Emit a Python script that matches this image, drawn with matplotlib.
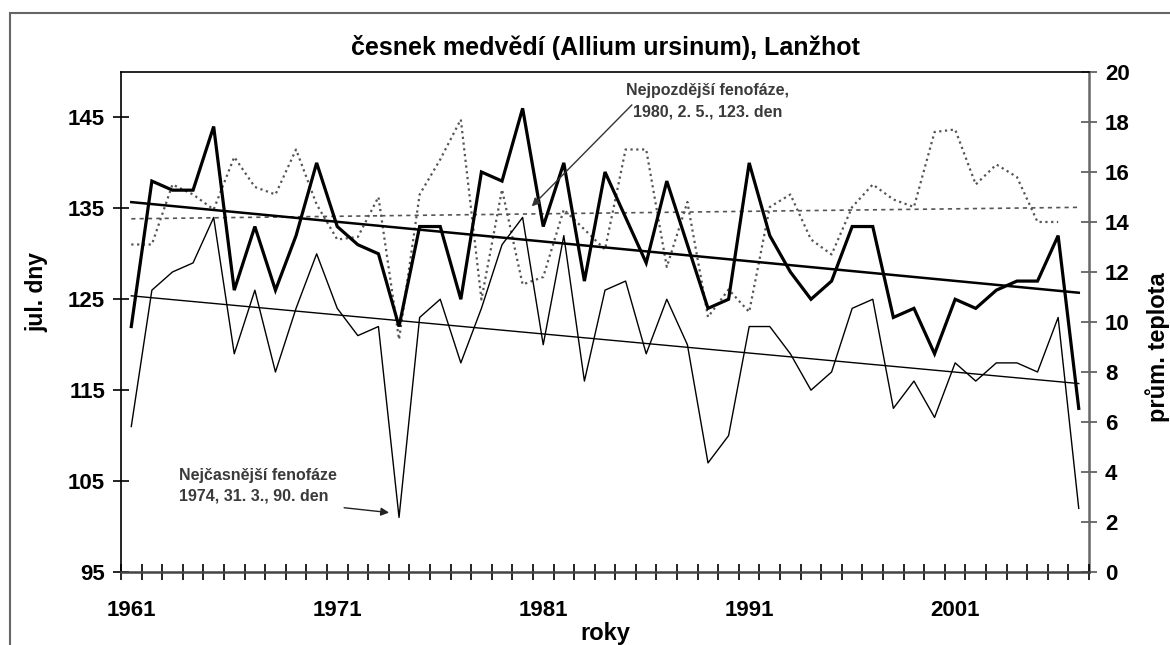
import numpy as np
import matplotlib
matplotlib.use('Agg')
import matplotlib.pyplot as plt
from matplotlib.patches import Rectangle

plt.rcParams['font.family'] = ['Liberation Sans', 'DejaVu Sans']

# roky 1961-2007
roky = list(range(1961, 2008))

# tlusta cara - jul. dny (leva osa)
faze_a = [122, 138, 137, 137, 144, 126, 133, 126, 132, 140,
          133, 131, 130, 122, 133, 133, 125, 139, 138, 146,
          133, 140, 127, 139, 134, 129, 138, 131, 124, 125,
          140, 132, 128, 125, 127, 133, 133, 123, 124, 119,
          125, 124, 126, 127, 127, 132, 113]

# tenka cara - jul. dny (leva osa)
faze_b = [111, 126, 128, 129, 134, 119, 126, 117, 124, 130,
          124, 121, 122, 101, 123, 125, 118, 124, 131, 134,
          120, 132, 116, 126, 127, 119, 125, 120, 107, 110,
          122, 122, 119, 115, 117, 124, 125, 113, 116, 112,
          118, 116, 118, 118, 117, 123, 102]

# tečkovaná - prům. teplota (prava osa), 2007 chybi
teplota = [13.1, 13.1, 15.5, 15.1, 14.5, 16.6, 15.4, 15.1, 16.9, 14.7,
           13.3, 13.4, 15.0, 9.3, 15.1, 16.5, 18.1, 10.9, 15.3, 11.5,
           11.8, 14.5, 13.7, 12.9, 16.9, 16.9, 12.2, 14.8, 10.2, 11.3,
           10.4, 14.6, 15.1, 13.3, 12.7, 14.6, 15.5, 14.9, 14.6, 17.6,
           17.7, 15.5, 16.3, 15.8, 14.0, 14.0, np.nan]

popisky_x = [1961, 1971, 1981, 1991, 2001]

x = np.array(roky, dtype=float)
a = np.array(faze_a, dtype=float)
b = np.array(faze_b, dtype=float)
t = np.array(teplota, dtype=float)

def trend(x, y):
    ok = ~np.isnan(y)
    k, q = np.polyfit(x[ok], y[ok], 1)
    return k * x + q

fig = plt.figure(figsize=(11.7, 6.45), dpi=100)
ax = fig.add_axes([0.1034, 0.1132, 0.8274, 0.7752])
ax2 = ax.twinx()

# teplota na prave ose
ax2.plot(x[~np.isnan(t)], t[~np.isnan(t)], color='#555555', lw=1.6, linestyle=(0, (1, 1.6)))
ax2.plot(x, trend(x, t), color='#555555', lw=1.2, linestyle=(0, (2.5, 2.5)))

ax.plot(x, a, color='black', lw=2.3, solid_joinstyle='miter', zorder=3)
ax.plot(x, b, color='black', lw=1.0, zorder=3)
ax.plot(x, trend(x, a), color='black', lw=1.8, zorder=3)
ax.plot(x, trend(x, b), color='black', lw=1.0, zorder=3)

ax.set_zorder(ax2.get_zorder() + 1)
ax.patch.set_visible(False)

ax.set_xlim(1960.5, 2007.5)
ax.set_ylim(95, 150)
ax2.set_ylim(0, 20)

ax.set_xticks(popisky_x)
ax.set_xticklabels([str(r) for r in popisky_x], fontsize=16, fontweight='bold')
ax.set_xticks(np.arange(1960.5, 2008, 1), minor=True)
ax.tick_params(axis='x', which='major', length=0, pad=20)
ax.tick_params(axis='x', which='minor', direction='inout', length=11, width=1.2)

ax.set_yticks(np.arange(95, 146, 10))
ax.set_yticklabels([str(v) for v in range(95, 146, 10)], fontsize=16, fontweight='bold')
ax.tick_params(axis='y', direction='inout', length=11, width=1.2, pad=6)

ax2.set_yticks(np.arange(0, 21, 2))
ax2.set_yticklabels([str(v) for v in range(0, 21, 2)], fontsize=16, fontweight='bold')
ax2.tick_params(axis='y', direction='inout', length=11, width=1.2, pad=6, color='#555555')

for s in ['left', 'top']:
    ax.spines[s].set_linewidth(1.2)
ax.spines['bottom'].set_color('#444444')
ax.spines['bottom'].set_linewidth(1.8)
ax.spines['right'].set_visible(False)
ax2.spines['right'].set_color('#666666')
ax2.spines['right'].set_linewidth(1.8)
for s in ['left', 'top', 'bottom']:
    ax2.spines[s].set_visible(False)

ax.set_title('česnek medvědí (Allium ursinum), Lanžhot', fontsize=18, fontweight='bold', pad=12)
ax.set_ylabel('jul. dny', fontsize=16.5, fontweight='bold')
ax.yaxis.set_label_coords(-0.0754, 0.56)
ax.set_xlabel('roky', fontsize=17, fontweight='bold', labelpad=1)
ax2.set_ylabel('prům. teplota', fontsize=17, fontweight='bold')
ax2.yaxis.set_label_coords(1.058, 0.45)

# popisky extremu
uzky = ['Liberation Sans Narrow', 'Liberation Sans', 'DejaVu Sans']
ax.annotate('', xy=(1980.35, 135), xytext=(1985.4, 146.6),
            arrowprops=dict(arrowstyle='-|>', color='#333333', lw=1.0, mutation_scale=12))
ax.text(1989.0, 146.8, 'Nejpozdější fenofáze,\n1980, 2. 5., 123. den', ha='center', va='center',
        fontsize=11.5, fontweight='bold', color='#3a3a3a', family=uzky, linespacing=1.5)
ax.annotate('', xy=(1973.65, 101.5), xytext=(1971.2, 102.1),
            arrowprops=dict(arrowstyle='-|>', color='#222222', lw=1.0, mutation_scale=12))
ax.text(1963.3, 104.5, 'Nejčasnější fenofáze\n1974, 31. 3., 90. den', ha='left', va='center',
        fontsize=11.5, fontweight='bold', color='#3a3a3a', family=uzky, linespacing=1.5)

# ramecek kolem grafu
fig.patches.append(Rectangle((10 / 1170, -0.2), 2, 1.2 - 13 / 645, transform=fig.transFigure,
                             fill=False, ec='#666666', lw=1.5))

fig.savefig('out.png', dpi=100)
